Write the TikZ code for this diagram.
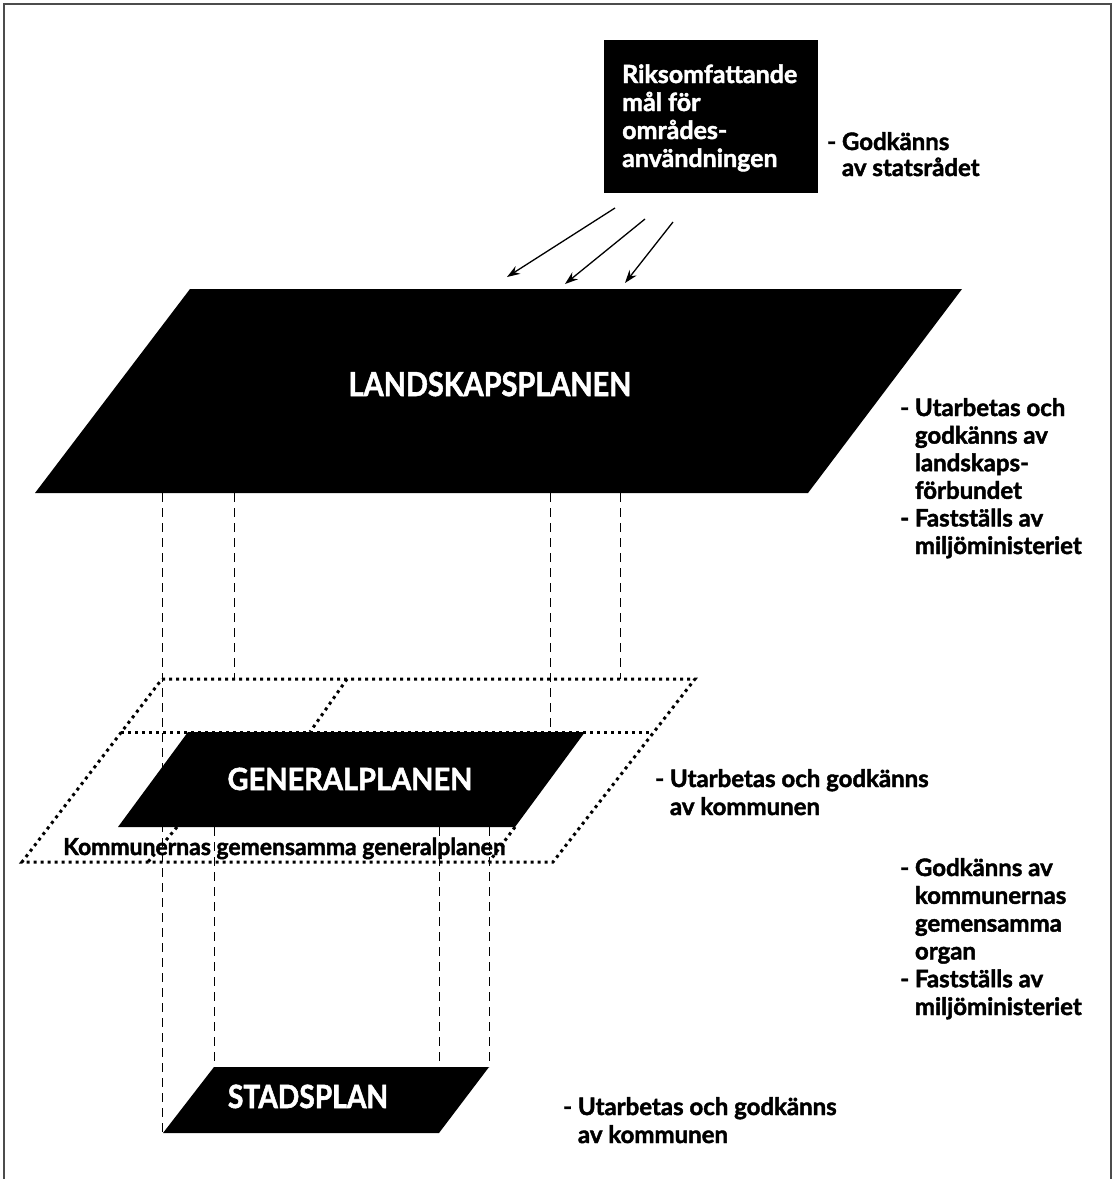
\documentclass[tikz,border=0pt]{standalone}
\usepackage{fontspec}
\setmainfont{Lato}[BoldFeatures={FakeBold=1.8}]
\usetikzlibrary{arrows.meta}
\tikzset{
  frameline/.style={draw=black!70, line width=1.6pt},
  blackplane/.style={fill=black},
  guide/.style={draw=black, line width=0.8pt, dash pattern=on 9pt off 6pt},
  dotline/.style={draw=black, line width=3pt, dash pattern=on 3pt off 4pt},
  flow/.style={draw=black, line width=1.3pt, -{Stealth[length=13pt,width=9pt]}},
  note/.style={font=\bfseries\fontsize{24}{27.6}\selectfont, align=left, anchor=base west, inner sep=0pt, text=black},
  boxtxt/.style={font=\bfseries\fontsize{25}{28}\selectfont, align=left, anchor=base west, inner sep=0pt, text=white},
  title/.style={font=\bfseries, anchor=base, inner sep=0pt, text=white}
}
\begin{document}
\begin{tikzpicture}[x=1pt,y=-1pt]
\useasboundingbox (0,0) rectangle (1115,1179);
% frame
\draw[frameline] (4,1179) -- (4,4) -- (1111,4) -- (1111,1179);

% dashed guides
\draw[guide] (162,493) -- (162,1133);
\draw[guide] (234,493) -- (234,679);
\draw[guide] (550,493) -- (550,732);
\draw[guide] (620,493) -- (620,679);
\draw[guide] (214,827) -- (214,1067);
\draw[guide] (439,827) -- (439,1067);
\draw[guide] (489,827) -- (489,1067);

% joint general plan (dotted)
\draw[dotline] (162,679) -- (695,679) -- (553,862) -- (22,862) -- cycle;
\draw[dotline] (121,732) -- (652,732);
\draw[dotline] (347,679) -- (310,732);
\draw[dotline] (177,827) -- (148,862);
\draw[dotline] (515,827) -- (489,862);

% top box
\node[fill=black, minimum width=214pt, minimum height=153pt, anchor=north west, inner sep=0pt] (mal) at (604,40) {};
\node[boxtxt] (maltxt) at (622,167) {Riksomfattande\\mål för\\områdes-\\användningen};
\node[note, font=\bfseries\fontsize{24}{26}\selectfont] (stat) at (827,176) {- Godkänns\\\hphantom{- }av statsrådet};

% arrows
\coordinate (a1s) at (615,208); \coordinate (a1e) at (507,277);
\coordinate (a2s) at (645,219); \coordinate (a2e) at (565,284);
\coordinate (a3s) at (673,222); \coordinate (a3e) at (625,283);
\draw[flow] (a1s) -- (a1e);
\draw[flow] (a2s) -- (a2e);
\draw[flow] (a3s) -- (a3e);

% landskapsplanen
\fill[blackplane] (190,289) -- (962,289) -- (808,493) -- (35,493) -- cycle;
\node[title, font=\bfseries\fontsize{33}{36}\selectfont] (lp) at (490,396) {\scalebox{0.875}[1]{LANDSKAPSPLANEN}};
\node[note] (lpnote) at (900,554) {- Utarbetas och\\\hphantom{- }godkänns av\\\hphantom{- }landskaps-\\\hphantom{- }förbundet\\- Fastställs av\\\hphantom{- }miljöministeriet};

% generalplanen
\fill[blackplane] (188,732) -- (585,732) -- (515,827) -- (118,827) -- cycle;
\node[title, font=\bfseries\fontsize{30.5}{34}\selectfont] (gp) at (350,790) {\scalebox{0.95}[1]{GENERALPLANEN}};
\node[note, font=\bfseries\fontsize{23.5}{23.5}\selectfont] (kgp) at (63,855) {\scalebox{0.975}[1]{Kommunernas gemensamma generalplanen}};
\node[note, font=\bfseries\fontsize{24}{28}\selectfont] (gpnote) at (655,815) {- Utarbetas och godkänns\\\hphantom{- }av kommunen};
\node[note, font=\bfseries\fontsize{24}{27.8}\selectfont] (kgpnote) at (900,1015) {- Godkänns av\\\hphantom{- }kommunernas\\\hphantom{- }gemensamma\\\hphantom{- }organ\\- Fastställs av\\\hphantom{- }miljöministeriet};

% stadsplan
\fill[blackplane] (214,1067) -- (489,1067) -- (439,1133) -- (163,1133) -- cycle;
\node[title, font=\bfseries\fontsize{32}{35}\selectfont] (sp) at (308,1108) {\scalebox{0.88}[1]{STADSPLAN}};
\node[note, font=\bfseries\fontsize{24}{28}\selectfont] (spnote) at (563,1143) {- Utarbetas och godkänns\\\hphantom{- }av kommunen};
\end{tikzpicture}
\end{document}
